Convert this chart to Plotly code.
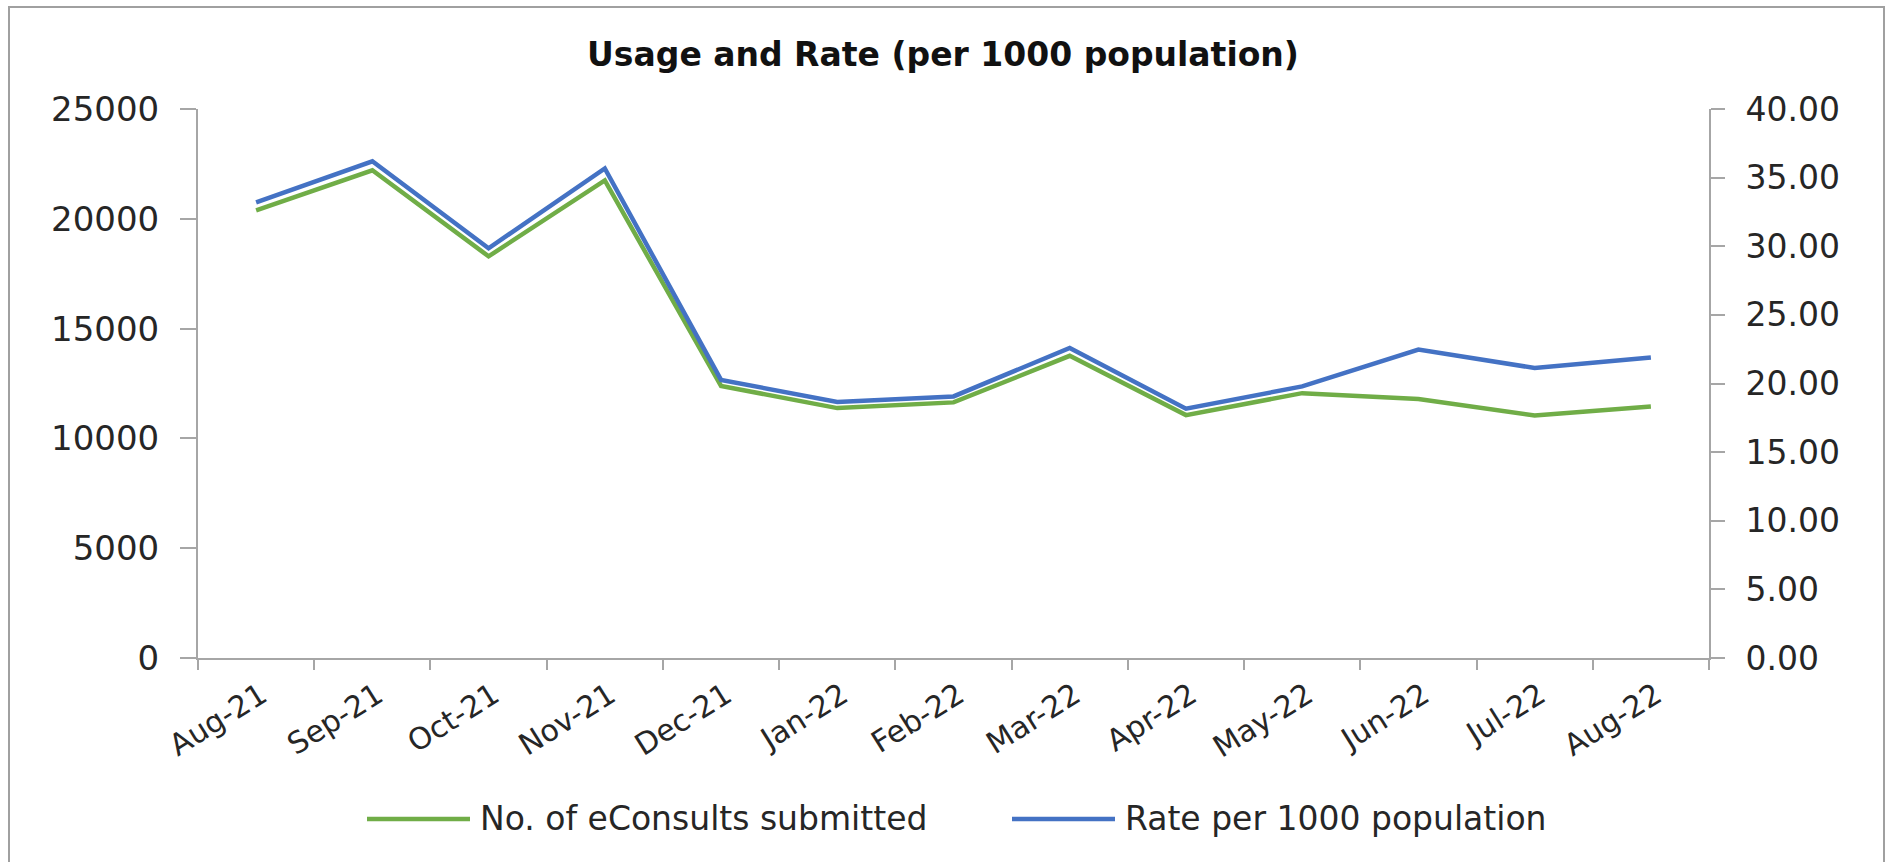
import plotly.graph_objects as go
from plotly.subplots import make_subplots

# Monthly eConsult usage and rate per 1000 population
months = ["Aug-21", "Sep-21", "Oct-21", "Nov-21", "Dec-21", "Jan-22", "Feb-22",
          "Mar-22", "Apr-22", "May-22", "Jun-22", "Jul-22", "Aug-22"]
econsults = [20380, 22210, 18290, 21750, 12390, 11380, 11640,
             13760, 11060, 12060, 11790, 11040, 11450]
rate_per_1000 = [33.19, 36.19, 29.85, 35.67, 20.26, 18.66, 19.06,
                 22.59, 18.16, 19.79, 22.47, 21.13, 21.90]

series_names = ["No. of eConsults submitted", "Rate per 1000 population"]
green = "#70AD47"
blue = "#4472C4"
axis_grey = "#A6A6A6"
text_col = "#262626"
font_family = "DejaVu Sans"

W, H = 1886, 862
# plot area in pixels
PX0, PX1, PY0, PY1 = 198, 1709, 109, 658


def px(x):
    return (x - PX0) / (PX1 - PX0)


def py(y):
    return (PY1 - y) / (PY1 - PY0)


fig = make_subplots(specs=[[{"secondary_y": True}]])
fig.add_trace(go.Scatter(x=months, y=econsults, mode="lines", name=series_names[0],
                         line=dict(color=green, width=4.5), showlegend=False),
              secondary_y=False)
fig.add_trace(go.Scatter(x=months, y=rate_per_1000, mode="lines", name=series_names[1],
                         line=dict(color=blue, width=4.5), showlegend=False),
              secondary_y=True)

fig.update_layout(
    width=W, height=H,
    margin=dict(l=PX0, r=W - PX1, t=PY0, b=H - PY1, pad=0),
    paper_bgcolor="white", plot_bgcolor="white",
    font=dict(family=font_family, color=text_col),
    title=dict(text="<b>Usage and Rate (per 1000 population)</b>",
               font=dict(family=font_family, size=33, color="#111111"),
               x=0.5, xref="container", xanchor="center",
               y=1 - 54 / H, yref="container", yanchor="middle"),
)

fig.update_xaxes(type="category", range=[-0.5, len(months) - 0.5], domain=[0, 1],
                 showline=True, linecolor=axis_grey, linewidth=2,
                 ticks="outside", tickson="boundaries", ticklen=10, tickcolor=axis_grey, tickwidth=2,
                 tickangle=-32, ticklabelshift=5, ticklabelstandoff=6,
                 tickfont=dict(size=30, color=text_col),
                 showgrid=False, zeroline=False)
fig.update_yaxes(range=[0, 25000], dtick=5000, tickformat="d",
                 showline=True, linecolor=axis_grey, linewidth=2,
                 ticks="outside", ticklen=16, tickcolor=axis_grey, tickwidth=2,
                 ticklabelstandoff=14,
                 tickfont=dict(size=34, color=text_col),
                 showgrid=False, zeroline=False, secondary_y=False)
fig.update_yaxes(range=[0, 40], dtick=5, tickformat=".2f",
                 showline=True, linecolor=axis_grey, linewidth=2,
                 ticks="outside", ticklen=14, tickcolor=axis_grey, tickwidth=2,
                 ticklabelstandoff=14,
                 tickfont=dict(size=33, color=text_col),
                 showgrid=False, zeroline=False, secondary_y=True)

shapes = [
    # chart border
    dict(type="rect", xref="paper", yref="paper",
         x0=px(9), x1=px(1884), y0=py(900), y1=py(7),
         line=dict(color="#A0A0A0", width=2), fillcolor="rgba(0,0,0,0)", layer="below"),
    # legend keys
    dict(type="line", xref="paper", yref="paper", x0=px(367), x1=px(470), y0=py(819), y1=py(819),
         line=dict(color=green, width=4.5)),
    dict(type="line", xref="paper", yref="paper", x0=px(1012), x1=px(1115), y0=py(819), y1=py(819),
         line=dict(color=blue, width=4.5)),
]
annotations = [
    dict(text=series_names[0], xref="paper", yref="paper", x=px(478), y=py(818),
         xanchor="left", yanchor="middle", showarrow=False,
         font=dict(family=font_family, size=33, color=text_col)),
    dict(text=series_names[1], xref="paper", yref="paper", x=px(1123), y=py(818),
         xanchor="left", yanchor="middle", showarrow=False,
         font=dict(family=font_family, size=33, color=text_col)),
]
fig.update_layout(shapes=shapes, annotations=annotations)

fig.write_html("out.html")
